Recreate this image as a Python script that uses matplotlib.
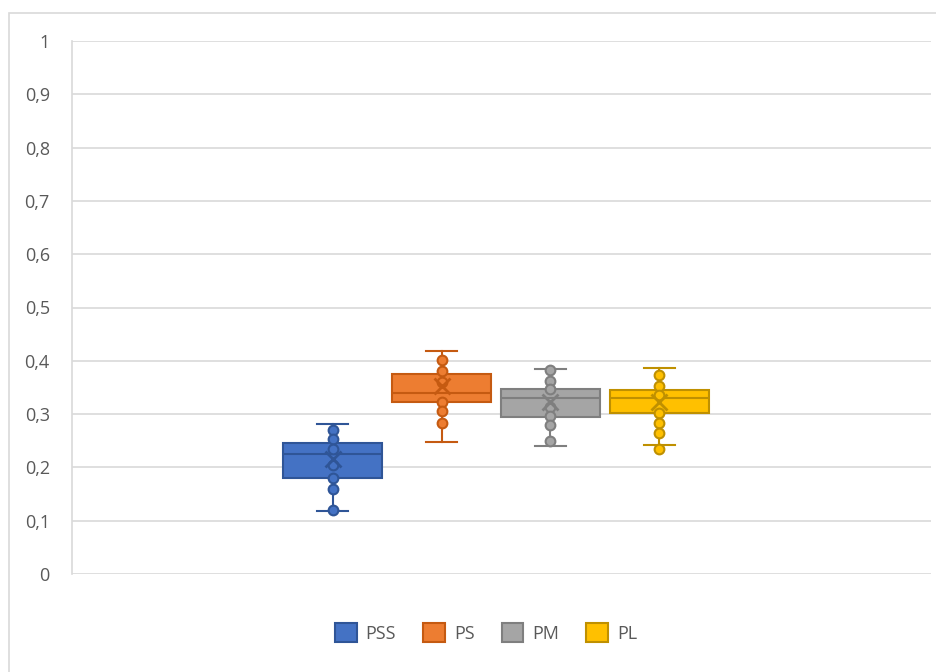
import matplotlib.pyplot as plt
from matplotlib.patches import Rectangle, Patch
import numpy as np

plt.rcParams['font.family'] = ['Open Sans', 'DejaVu Sans']

# ---------------------data--------------------------
groups = ['PSS', 'PS', 'PM', 'PL']

# box statistics per group
whisker_low = [0.118, 0.248, 0.241, 0.242]
q1 = [0.180, 0.323, 0.295, 0.303]
median = [0.226, 0.340, 0.331, 0.331]
q3 = [0.246, 0.376, 0.348, 0.346]
whisker_high = [0.282, 0.419, 0.385, 0.387]
mean = [0.216, 0.352, 0.323, 0.323]

# inner points per group
points_pss = [0.271, 0.254, 0.235, 0.205, 0.180, 0.160, 0.120]
points_ps = [0.402, 0.380, 0.361, 0.323, 0.306, 0.284]
points_pm = [0.382, 0.363, 0.348, 0.314, 0.297, 0.280, 0.250]
points_pl = [0.374, 0.352, 0.335, 0.303, 0.284, 0.265, 0.235]
points = [points_pss, points_ps, points_pm, points_pl]

fill_colors = ['#4472C4', '#ED7D31', '#A5A5A5', '#FFC000']
edge_colors = ['#2F5597', '#C55A11', '#7F7F7F', '#BF9000']

y_ticks = np.arange(0, 1.01, 0.1)
y_labels = ['0', '0,1', '0,2', '0,3', '0,4', '0,5', '0,6', '0,7', '0,8', '0,9', '1']

# ---------------------figure--------------------------
fig = plt.figure(figsize=(9.36, 6.72), dpi=100)
W, H = 936, 672
ax = fig.add_axes([72 / W, 1 - 574 / H, (931 - 72) / W, (574 - 41) / H])

# chart border
fig.patches.append(Rectangle((9 / W, -0.01), 1.0, 1 - 12.5 / H + 0.01,
                             transform=fig.transFigure, fill=False,
                             edgecolor='#D9D9D9', linewidth=1.2))

stats = []
for i, g in enumerate(groups):
    stats.append(dict(label=g, whislo=whisker_low[i], q1=q1[i], med=median[i],
                      q3=q3[i], whishi=whisker_high[i], mean=mean[i], fliers=[]))

positions = np.arange(1, len(groups) + 1)
bp = ax.bxp(stats, positions=positions, widths=0.91, patch_artist=True,
            showmeans=False, showfliers=False, zorder=3)

for i in range(len(groups)):
    bp['boxes'][i].set(facecolor=fill_colors[i], edgecolor=edge_colors[i], linewidth=1.5)
    bp['medians'][i].set(color=edge_colors[i], linewidth=1.5)
    for j in (2 * i, 2 * i + 1):
        bp['whiskers'][j].set(color=edge_colors[i], linewidth=1.5)
        bp['caps'][j].set(color=edge_colors[i], linewidth=1.5)
        bp['caps'][j].set_xdata(np.array([-0.14, 0.14]) + positions[i])

    # inner points and mean marker
    ax.plot([positions[i]] * len(points[i]), points[i], 'o', ms=7,
            mfc=fill_colors[i], mec=edge_colors[i], mew=1.5, zorder=4)
    ax.plot(positions[i], mean[i], 'x', ms=11, color=edge_colors[i], mew=2, zorder=4)

ax.set_xlim(-1.394, 6.495)
ax.set_ylim(0, 1)
ax.set_yticks(y_ticks)
ax.set_yticklabels(y_labels)
ax.set_xticks([])
ax.yaxis.grid(True, color='#D9D9D9', linewidth=1.2)
ax.set_axisbelow(True)
ax.tick_params(axis='y', length=0, pad=16, labelsize=13, labelcolor='#595959')
for side in ['top', 'right', 'bottom']:
    ax.spines[side].set_visible(False)
ax.spines['left'].set_color('#D9D9D9')
ax.spines['left'].set_linewidth(1.2)

handles = [Patch(facecolor=fill_colors[i], edgecolor=edge_colors[i], linewidth=1.5, label=g)
           for i, g in enumerate(groups)]
fig.legend(handles=handles, loc='center', bbox_to_anchor=(486 / W, 1 - 633 / H),
           ncol=4, frameon=False, fontsize=13, labelcolor='#595959',
           handlelength=1.2, handleheight=1.2, handletextpad=0.5, columnspacing=1.5)

fig.savefig('out.png', dpi=100)
